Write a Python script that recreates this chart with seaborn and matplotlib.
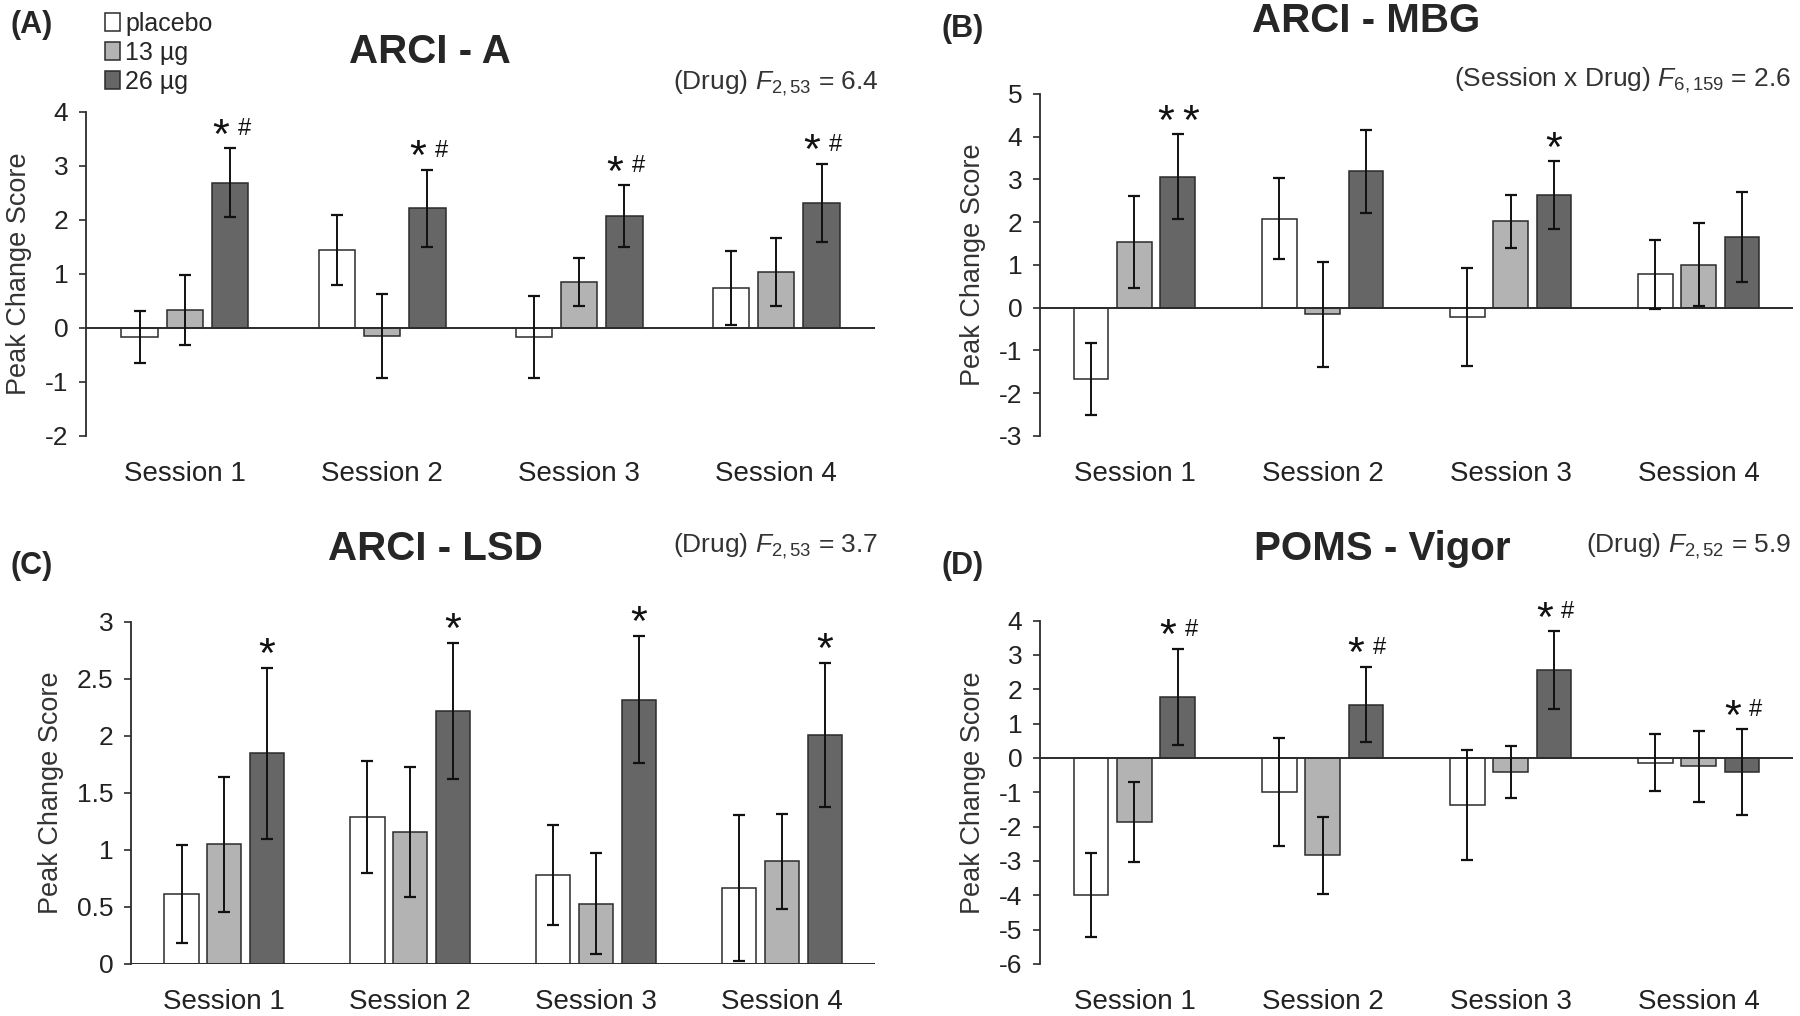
import pandas as pd
import numpy as np
import matplotlib
matplotlib.use('Agg')
import matplotlib.pyplot as plt
import seaborn as sns
from matplotlib.ticker import FuncFormatter

sns.set_style('white')
plt.rcParams['font.family'] = ['Liberation Sans', 'DejaVu Sans']
plt.rcParams['mathtext.fontset'] = 'custom'
plt.rcParams['mathtext.rm'] = 'Liberation Sans'
plt.rcParams['mathtext.it'] = 'Liberation Sans:italic'

# categories
sessions = ['Session 1', 'Session 2', 'Session 3', 'Session 4']
doses = ['placebo', '13 µg', '26 µg']

# ARCI - A (means and SEM)
arci_a_placebo = [-0.17, 1.44, -0.17, 0.74]
arci_a_13 = [0.33, -0.15, 0.85, 1.04]
arci_a_26 = [2.69, 2.21, 2.07, 2.31]
arci_a_err_placebo = [0.49, 0.65, 0.76, 0.68]
arci_a_err_13 = [0.65, 0.77, 0.44, 0.63]
arci_a_err_26 = [0.63, 0.71, 0.57, 0.72]
arci_a_marks = ['*#', '*#', '*#', '*#']

# ARCI - MBG
mbg_placebo = [-1.67, 2.08, -0.22, 0.78]
mbg_13 = [1.54, -0.16, 2.02, 1.00]
mbg_26 = [3.06, 3.19, 2.63, 1.65]
mbg_err_placebo = [0.85, 0.95, 1.15, 0.81]
mbg_err_13 = [1.08, 1.23, 0.62, 0.97]
mbg_err_26 = [0.99, 0.97, 0.79, 1.06]
mbg_marks = ['**', '', '*', '']

# ARCI - LSD
lsd_placebo = [0.61, 1.29, 0.78, 0.67]
lsd_13 = [1.05, 1.16, 0.53, 0.90]
lsd_26 = [1.85, 2.22, 2.32, 2.01]
lsd_err_placebo = [0.43, 0.49, 0.44, 0.64]
lsd_err_13 = [0.59, 0.57, 0.44, 0.42]
lsd_err_26 = [0.75, 0.60, 0.56, 0.63]
lsd_marks = ['*', '*', '*', '*']

# POMS - Vigor
vigor_placebo = [-4.00, -1.00, -1.37, -0.14]
vigor_13 = [-1.86, -2.84, -0.41, -0.24]
vigor_26 = [1.77, 1.55, 2.56, -0.41]
vigor_err_placebo = [1.22, 1.57, 1.60, 0.83]
vigor_err_13 = [1.16, 1.13, 0.75, 1.03]
vigor_err_26 = [1.40, 1.10, 1.13, 1.24]
vigor_marks = ['*#', '*#', '*#', '*#']

bar_colors = ['#ffffff', '#b3b3b3', '#666666']
line_col = '#2b2b2b'

fig = plt.figure(figsize=(18, 10.16), dpi=100)
ax_a = fig.add_axes([0.048, 0.571, 0.438, 0.319])
ax_b = fig.add_axes([0.578, 0.571, 0.418, 0.3366])
ax_c = fig.add_axes([0.073, 0.0512, 0.413, 0.3366])
ax_d = fig.add_axes([0.578, 0.0512, 0.418, 0.338])


def draw_panel(ax, means, errs, marks, ylim, yticks):
    df = pd.DataFrame({
        'session': sessions * 3,
        'dose': np.repeat(doses, 4),
        'value': np.concatenate(means),
    })
    sns.barplot(data=df, x='session', y='value', hue='dose', hue_order=doses,
                palette=bar_colors, edgecolor=line_col, linewidth=1.1,
                width=0.69, gap=0.2, errorbar=None, ax=ax)
    # error bars on top of the seaborn bars
    for cont, e in zip(ax.containers, errs):
        xs = [b.get_x() + b.get_width() / 2 for b in cont]
        ys = [b.get_y() + b.get_height() for b in cont]
        ax.errorbar(xs, ys, yerr=e, fmt='none', ecolor='#111111',
                    elinewidth=1.4, capsize=4, capthick=1.6, zorder=4)
    # significance marks above the 26 µg bars
    top_cont = ax.containers[2]
    for b, e, m in zip(top_cont, errs[2], marks):
        x = b.get_x() + b.get_width() / 2
        y = b.get_y() + b.get_height() + e
        if m == '*#':
            ax.annotate('*', (x, y), xytext=(-7, -6), textcoords='offset points',
                        ha='center', va='bottom', fontsize=31, color='#111')
            ax.annotate('#', (x, y), xytext=(10, 6), textcoords='offset points',
                        ha='center', va='bottom', fontsize=17, color='#111')
        elif m == '**':
            for dx in (-9, 9):
                ax.annotate('*', (x, y), xytext=(dx, -6), textcoords='offset points',
                            ha='center', va='bottom', fontsize=31, color='#111')
        elif m == '*':
            ax.annotate('*', (x, y), xytext=(0, -6), textcoords='offset points',
                        ha='center', va='bottom', fontsize=31, color='#111')
    ax.axhline(0, color=line_col, lw=1.4, zorder=3)
    ax.set_ylim(*ylim)
    ax.set_xlim(-0.5, 3.5)
    ax.set_yticks(yticks)
    ax.yaxis.set_major_formatter(FuncFormatter(lambda v, p: f'{v:g}'))
    ax.tick_params(axis='y', direction='out', length=5, width=1.2, color=line_col,
                   labelsize=19, labelcolor='#222', left=True, pad=8)
    ax.tick_params(axis='x', length=0, labelsize=20, labelcolor='#222', pad=18)
    for s in ['top', 'right', 'bottom']:
        ax.spines[s].set_visible(False)
    ax.spines['left'].set_color(line_col)
    ax.spines['left'].set_linewidth(1.3)
    ax.set_xlabel('')
    ax.set_ylabel('Peak Change Score', fontsize=19.5, color='#333', labelpad=9)
    ax.get_legend().remove()


draw_panel(ax_a, [arci_a_placebo, arci_a_13, arci_a_26],
           [arci_a_err_placebo, arci_a_err_13, arci_a_err_26], arci_a_marks,
           (-2, 4), range(-2, 5))
draw_panel(ax_b, [mbg_placebo, mbg_13, mbg_26],
           [mbg_err_placebo, mbg_err_13, mbg_err_26], mbg_marks,
           (-3, 5), range(-3, 6))
draw_panel(ax_c, [lsd_placebo, lsd_13, lsd_26],
           [lsd_err_placebo, lsd_err_13, lsd_err_26], lsd_marks,
           (0, 3), np.arange(0, 3.01, 0.5))
draw_panel(ax_d, [vigor_placebo, vigor_13, vigor_26],
           [vigor_err_placebo, vigor_err_13, vigor_err_26], vigor_marks,
           (-6, 4), range(-6, 5))

# legend (top left, outside panel A)
handles = [plt.Rectangle((0, 0), 1, 1, facecolor=c, edgecolor=line_col, lw=1.1)
           for c in bar_colors]
fig.legend(handles, doses, loc='upper left', bbox_to_anchor=(0.053, 0.998),
           frameon=False, fontsize=18, handlelength=0.6, handleheight=0.75,
           handletextpad=0.2, labelspacing=0.2, borderaxespad=0)

# titles, panel letters, statistics
fig.text(0.239, 0.949, 'ARCI - A', ha='center', va='center', fontsize=29, weight='bold')
fig.text(0.759, 0.979, 'ARCI - MBG', ha='center', va='center', fontsize=29, weight='bold')
fig.text(0.242, 0.4597, 'ARCI - LSD', ha='center', va='center', fontsize=29, weight='bold')
fig.text(0.768, 0.4597, 'POMS - Vigor', ha='center', va='center', fontsize=29, weight='bold')

fig.text(0.006, 0.975, '(A)', ha='left', va='center', fontsize=22, weight='bold')
fig.text(0.523, 0.971, '(B)', ha='left', va='center', fontsize=22, weight='bold')
fig.text(0.006, 0.443, '(C)', ha='left', va='center', fontsize=22, weight='bold')
fig.text(0.523, 0.443, '(D)', ha='left', va='center', fontsize=22, weight='bold')

stat_kw = dict(ha='right', va='center', fontsize=19, color='#333')
fig.text(0.488, 0.918, r'(Drug) $\mathit{F}_{2,53}$ = 6.4', **stat_kw)
fig.text(0.995, 0.921, r'(Session x Drug) $\mathit{F}_{6,159}$ = 2.6', **stat_kw)
fig.text(0.488, 0.4626, r'(Drug) $\mathit{F}_{2,53}$ = 3.7', **stat_kw)
fig.text(0.995, 0.4626, r'(Drug) $\mathit{F}_{2,52}$ = 5.9', **stat_kw)

fig.savefig('out.png', dpi=100)
